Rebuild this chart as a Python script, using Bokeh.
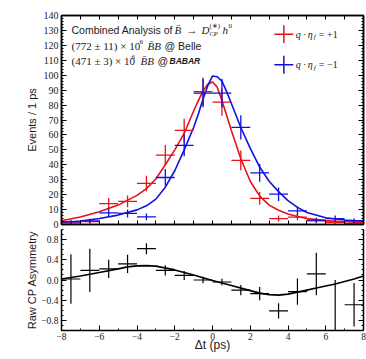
import numpy as np
from bokeh.plotting import figure
from bokeh.models import (Range1d, LinearAxis, FixedTicker, Label,
                          CustomJSTickFormatter)
from bokeh.layouts import column
from bokeh.embed import file_html
from bokeh.resources import INLINE

# ---------------- data ----------------
bin_centers = [-7.5, -6.5, -5.5, -4.5, -3.5, -2.5, -1.5, -0.5,
               0.5, 1.5, 2.5, 3.5, 4.5, 5.5, 6.5, 7.5]
bin_half_width = 0.5

red_events = [1.0, 2.0, 14.0, 15.5, 27.5, 46.5, 63.0, 89.0,
              82.0, 43.0, 17.5, 4.0, 5.0, 2.5, 1.5, 0.5]
red_err = [1.0, 1.4, 3.7, 3.9, 5.2, 6.8, 7.9, 9.4,
           9.1, 6.6, 4.2, 2.0, 2.2, 1.6, 1.2, 0.7]
blue_events = [1.7, 2.4, 7.8, 7.4, 5.1, 31.5, 53.0, 88.0,
               88.0, 65.0, 34.6, 20.3, 9.1, 2.9, 4.0, 2.5]
blue_err = [1.3, 1.5, 2.8, 2.7, 2.3, 5.6, 7.3, 9.4,
            9.4, 8.1, 5.9, 4.5, 3.0, 1.7, 2.0, 1.6]

curve_t = [-8, -7, -6, -5, -4, -3.5, -3, -2.5, -2, -1.5, -1, -0.75, -0.5, -0.25,
           0, 0.25, 0.5, 0.75, 1, 1.5, 2, 2.5, 3, 3.5, 4, 4.5, 5, 6, 7, 8]
red_curve = [2.5, 5, 8.5, 13, 19.5, 24, 30.5, 40, 50, 61, 76, 83, 89.5, 94,
             95.5, 92, 83, 73, 63, 44, 29, 19, 13, 9.5, 7, 5.3, 4, 2.6, 1.8, 1.2]
blue_curve = [1.3, 2.3, 4, 6.3, 9.8, 12.5, 17, 25, 36, 50, 65, 74, 84, 93,
              99.5, 99, 96, 89, 81, 65, 51, 38.5, 29, 22, 16, 11.5, 8, 4.5, 3, 2.2]

asym = [0.02, 0.19, 0.22, 0.32, 0.62, 0.19, 0.09, 0.0,
        -0.04, -0.2, -0.27, -0.61, -0.23, 0.12, -1.0, -0.49]
asym_err = [0.49, 0.43, 0.18, 0.18, 0.11, 0.10, 0.09, 0.065,
            0.065, 0.10, 0.13, 0.15, 0.26, 0.42, 1.0, 0.43]

asym_curve_t = [-8, -7, -6, -5, -4.5, -4, -3.5, -3, -2, -1, 0, 1, 2, 2.5, 3,
                3.5, 4, 4.5, 5, 5.5, 6, 6.5, 7, 7.5, 8]
asym_curve = [0.02, 0.08, 0.15, 0.22, 0.26, 0.28, 0.285, 0.275, 0.2, 0.1, -0.01,
              -0.11, -0.21, -0.26, -0.29, -0.3, -0.28, -0.24, -0.2, -0.16,
              -0.12, -0.08, -0.03, 0.02, 0.08]

events_ticks = list(range(0, 141, 10))
events_minor = list(range(0, 141, 2))
asym_ticks = [-0.8, -0.4, 0.0, 0.4, 0.8]
asym_minor = [round(-1 + 0.1 * i, 1) for i in range(21)]
t_ticks = [-8, -6, -4, -2, 0, 2, 4, 6, 8]
t_minor = list(range(-8, 9))

# ---------------- styles ----------------
RED = "#e8101a"
BLUE = "#1010e0"
TXT = "#1a1a1a"
SERIF = "Liberation Serif"
SANS = "Liberation Sans"
FW = 302
LEFT, RIGHT = 61, 3
AXLAB = "11px"
GAP = 5

blank_fmt = CustomJSTickFormatter(code="return '';")


def style_axis(ax, labels=True, tick_font="10px"):
    ax.major_tick_in = 5
    ax.major_tick_out = 0
    ax.minor_tick_in = 2
    ax.minor_tick_out = 0
    ax.axis_line_width = 1.5
    ax.major_tick_line_width = 1
    ax.minor_tick_line_width = 1
    ax.major_label_text_font = SERIF
    ax.major_label_text_color = TXT
    ax.axis_label_text_font = SANS
    ax.axis_label_text_font_style = "normal"
    ax.axis_label_text_font_size = AXLAB
    ax.axis_label_text_color = TXT
    if labels:
        ax.major_label_text_font_size = tick_font
        ax.major_label_standoff = 3
    else:
        ax.formatter = blank_fmt
        ax.major_label_text_font_size = "1px"
        ax.major_label_standoff = 0


def crosses(p, x, y, err, color, lw=1.3):
    x = np.asarray(x, float)
    y = np.asarray(y, float)
    e = np.asarray(err, float)
    p.segment(x0=x - bin_half_width, x1=x + bin_half_width, y0=y, y1=y,
              line_color=color, line_width=lw)
    p.segment(x0=x, x1=x, y0=y - e, y1=y + e, line_color=color, line_width=lw)


# ---------------- top panel ----------------
p1 = figure(frame_width=FW, frame_height=209,
            x_range=Range1d(-8, 8), y_range=Range1d(0, 140),
            x_axis_type=None, y_axis_type=None,
            output_backend="svg", toolbar_location=None,
            min_border_left=LEFT, min_border_right=RIGHT,
            min_border_top=15, min_border_bottom=GAP)
p1.outline_line_color = "black"
p1.outline_line_width = 1.5
p1.grid.visible = False

yl = LinearAxis(ticker=FixedTicker(ticks=events_ticks, minor_ticks=events_minor),
                axis_label="Events / 1 ps")
style_axis(yl)
yl.axis_label_standoff = 3
p1.add_layout(yl, "left")
yr = LinearAxis(ticker=FixedTicker(ticks=events_ticks, minor_ticks=events_minor))
style_axis(yr, labels=False)
p1.add_layout(yr, "right")
xb = LinearAxis(ticker=FixedTicker(ticks=t_minor, minor_ticks=[]))
style_axis(xb, labels=False)
xb.major_tick_in = 4
p1.add_layout(xb, "below")
xa = LinearAxis(ticker=FixedTicker(ticks=t_minor, minor_ticks=[]))
style_axis(xa, labels=False)
xa.major_tick_in = 4
p1.add_layout(xa, "above")

p1.line(curve_t, red_curve, line_color=RED, line_width=1.6)
p1.line(curve_t, blue_curve, line_color=BLUE, line_width=1.6)
crosses(p1, bin_centers, red_events, red_err, RED)
crosses(p1, bin_centers, blue_events, blue_err, BLUE)

# legend (key) in the upper right
LEG_X = 3.78
LEG_Y = [127.5, 107.0]
LEG_COL = [RED, BLUE]
LEG_SIGN = ["= +1", "= \u22121"]
for ly, lc, ls in zip(LEG_Y, LEG_COL, LEG_SIGN):
    p1.segment(x0=[LEG_X - 0.5], x1=[LEG_X + 0.5], y0=[ly], y1=[ly],
               line_color=lc, line_width=1.5)
    p1.segment(x0=[LEG_X], x1=[LEG_X], y0=[ly - 6], y1=[ly + 6],
               line_color=lc, line_width=1.5)
    for txt, xo, yo, fs, st in [("q \u00b7 ", 12, 0, "10px", "italic"),
                                ("\u03b7", 24, 0, "10px", "italic"),
                                ("f", 30, -3, "7px", "italic"),
                                (ls, 35, 0, "10px", "normal")]:
        p1.add_layout(Label(x=LEG_X, y=ly, x_offset=xo, y_offset=yo, text=txt,
                            text_font=SERIF, text_font_size=fs,
                            text_font_style=st, text_baseline="middle",
                            text_color=TXT))

# title text block
TX = -8.0
TY = [130.4, 119.6, 109.5]
pieces = [
    (0, "Combined Analysis of", 10, 0, SANS, "10.5px", "normal"),
    (0, "B\u0304", 113, 0, SERIF, "11px", "italic"),
    (0, "\u2192", 125, 0, SERIF, "11px", "normal"),
    (0, "D", 140, 0, SERIF, "11px", "italic"),
    (0, "(\u2217)", 148, 4, SERIF, "7px", "normal"),
    (0, "CP", 148, -4, SERIF, "6.5px", "italic"),
    (0, "h", 161, 0, SERIF, "11px", "italic"),
    (0, "0", 167, 4, SERIF, "7px", "normal"),
    (1, "(772 \u00b1 11) \u00d7 10", 10, 0, SERIF, "11px", "normal"),
    (1, "6", 78, 4, SERIF, "7px", "normal"),
    (1, "B\u0304B", 86, 0, SERIF, "11px", "italic"),
    (1, "@ Belle", 103, 0, SANS, "10.5px", "normal"),
    (2, "(471 \u00b1 3) \u00d7 10", 10, 0, SERIF, "11px", "normal"),
    (2, "6", 70, 4, SERIF, "7px", "normal"),
    (2, "B\u0304B", 79, 0, SERIF, "11px", "italic"),
    (2, "@", 96, 0, SANS, "10.5px", "normal"),
    (2, "BABAR", 108, 0, SANS, "8.5px", "bold italic"),
]
for li, txt, xo, yo, font, fs, st in pieces:
    p1.add_layout(Label(x=TX, y=TY[li], x_offset=xo, y_offset=yo, text=txt,
                        text_font=font, text_font_size=fs, text_font_style=st,
                        text_baseline="middle", text_color=TXT))

# ---------------- bottom panel ----------------
p2 = figure(frame_width=FW, frame_height=101,
            x_range=p1.x_range, y_range=Range1d(-1, 1),
            x_axis_type=None, y_axis_type=None,
            output_backend="svg", toolbar_location=None,
            min_border_left=LEFT, min_border_right=RIGHT,
            min_border_top=0, min_border_bottom=0)
p2.outline_line_color = None
p2.grid.visible = False

minus_fmt = CustomJSTickFormatter(code="return String(tick).replace('-', '\\u2212');")
minus_fmt1 = CustomJSTickFormatter(code="return tick.toFixed(1).replace('-', '\\u2212');")

yl2 = LinearAxis(ticker=FixedTicker(ticks=asym_ticks, minor_ticks=asym_minor),
                 axis_label="Raw CP Asymmetry", formatter=minus_fmt1)
style_axis(yl2, tick_font="9.5px")
yl2.axis_label_standoff = 0
p2.add_layout(yl2, "left")
yr2 = LinearAxis(ticker=FixedTicker(ticks=asym_ticks, minor_ticks=asym_minor))
style_axis(yr2, labels=False)
p2.add_layout(yr2, "right")
xb2 = LinearAxis(ticker=FixedTicker(ticks=t_ticks, minor_ticks=t_minor),
                 formatter=minus_fmt, axis_label="\u0394t (ps)")
style_axis(xb2, tick_font="9.5px")
xb2.major_label_standoff = 2
xb2.axis_label_standoff = -5
xb2.axis_label_text_font_size = "12px"
p2.add_layout(xb2, "below")

p2.line(asym_curve_t, asym_curve, line_color="black", line_width=1.6)
crosses(p2, bin_centers, asym, asym_err, "black", lw=1.2)

layout = column(p1, p2, spacing=0)

open("out.html", "w").write(file_html(layout, INLINE))
